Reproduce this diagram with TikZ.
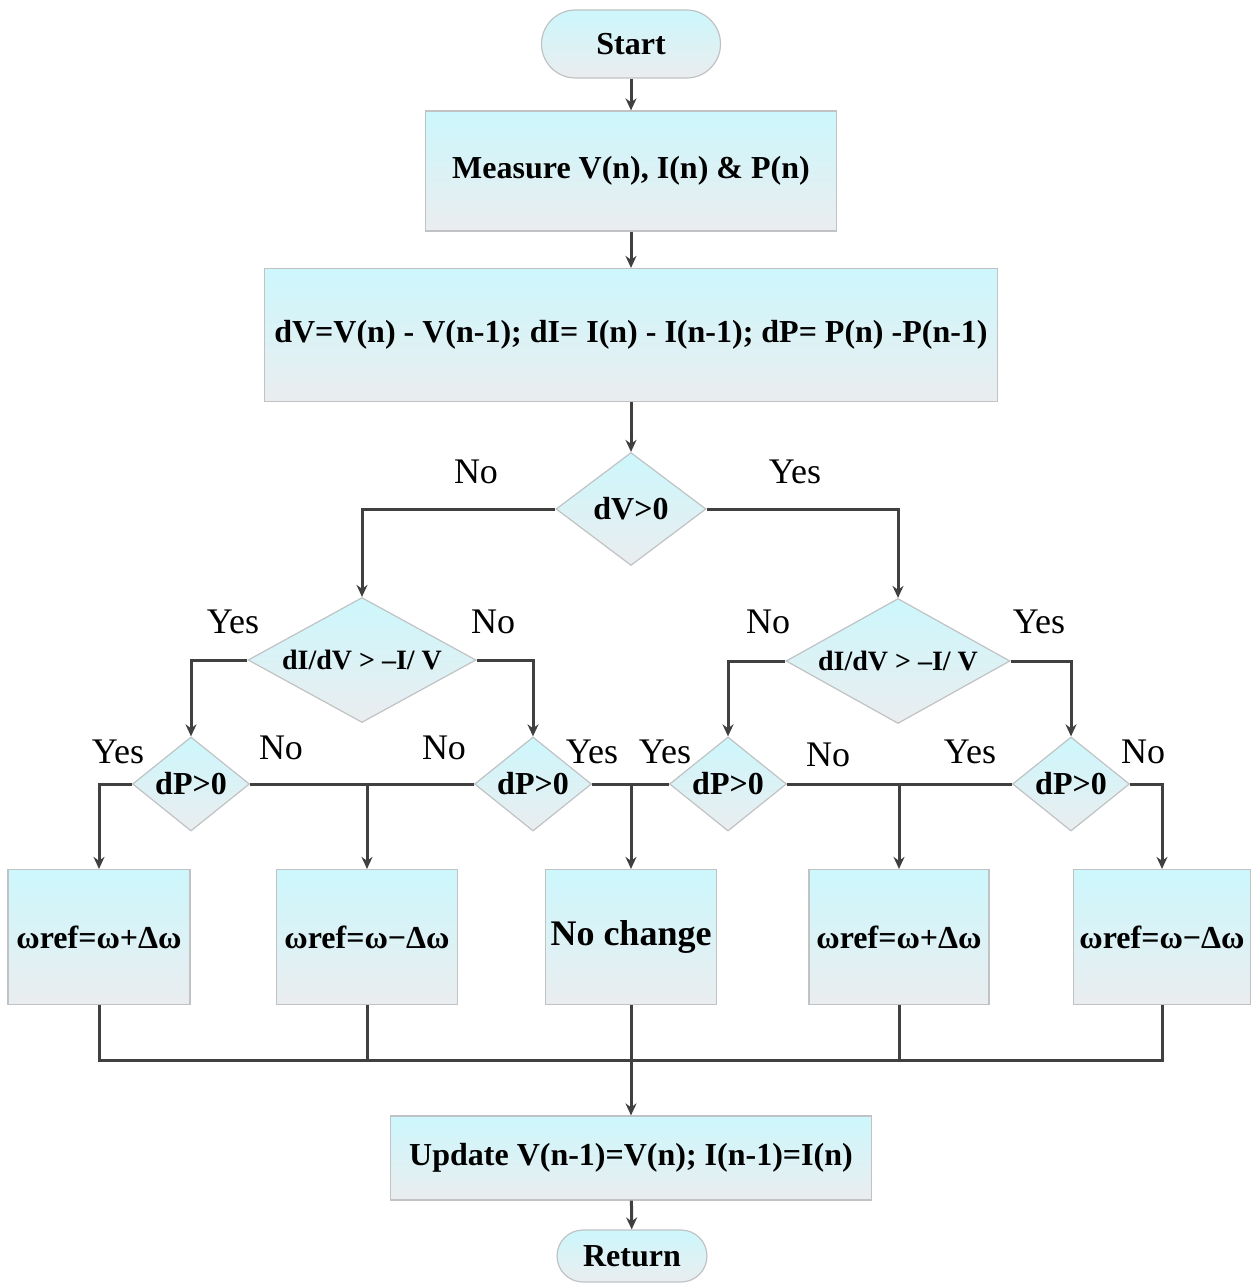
\documentclass[tikz,border=0pt]{standalone}
\usepackage{fontspec}
\setmainfont{Liberation Serif}
\usetikzlibrary{shapes.geometric,arrows.meta}

\definecolor{fillTop}{RGB}{204,247,252}
\definecolor{fillBottom}{RGB}{234,237,239}
\definecolor{edgeclr}{RGB}{192,194,196}
\definecolor{wireclr}{RGB}{64,64,64}

\tikzstyle{box} = [rectangle, text centered, draw=edgeclr, line width=0.6pt, top color=fillTop, bottom color=fillBottom, inner sep=1pt, font=\fontsize{16}{18}\selectfont\bfseries]
\tikzstyle{terminal} = [box]
\tikzstyle{decision} = [diamond, draw=edgeclr, line width=0.6pt, top color=fillTop, bottom color=fillBottom, inner sep=0pt, font=\fontsize{16}{18}\selectfont\bfseries]
\tikzstyle{answer} = [inner sep=0pt, font=\fontsize{18}{20}\selectfont]
\tikzstyle{arrow} = [line width=1.5pt, draw=wireclr, -{Stealth[length=6pt,width=5.5pt]}]
\tikzstyle{link} = [line width=1.5pt, draw=wireclr]

\begin{document}
\begin{tikzpicture}[x=0.5pt,y=-0.5pt]
  \useasboundingbox (0,0) rectangle (1252,1284);

  \node (Start) [terminal, minimum width=89.5pt, minimum height=34pt, rounded corners=17pt] at (631,44) {Start};
  \node (Measure) [box, minimum width=205.5pt, minimum height=60pt] at (631,171) {Measure V(n), I(n) \& P(n)};
  \node (Differences) [box, minimum width=366.5pt, minimum height=66.5pt] at (631,335) {dV=V(n) - V(n-1); dI= I(n) - I(n-1); dP= P(n) -P(n-1)};
  \node (dV test) [decision, minimum width=75pt, minimum height=56.5pt] at (631,509) {dV>0};

  \node (Left slope) [decision, aspect=1.8, minimum width=114pt, minimum height=62.5pt, font=\fontsize{14}{16}\selectfont\bfseries] at (362,660) {dI/dV > –I/ V};
  \node (Right slope) [decision, aspect=1.8, minimum width=112pt, minimum height=62.5pt, font=\fontsize{14}{16}\selectfont\bfseries] at (898,661) {dI/dV > –I/ V};

  \node (dP test 1) [decision, minimum width=58.5pt, minimum height=46.5pt] at (191,784) {dP>0};
  \node (dP test 2) [decision, minimum width=58.5pt, minimum height=46.5pt] at (533,784) {dP>0};
  \node (dP test 3) [decision, minimum width=58.5pt, minimum height=46.5pt] at (728,784) {dP>0};
  \node (dP test 4) [decision, minimum width=58.5pt, minimum height=46.5pt] at (1071,784) {dP>0};

  \node (Increase 1) [box, minimum width=91pt, minimum height=67.5pt] at (99,937) {ωref=ω+Δω};
  \node (Decrease 1) [box, minimum width=90.5pt, minimum height=67.5pt] at (367,937) {ωref=ω−Δω};
  \node (No change) [box, minimum width=85.5pt, minimum height=67.5pt, font=\fontsize{18}{20}\selectfont\bfseries] at (631,937) {No change};
  \node (Increase 2) [box, minimum width=90pt, minimum height=67.5pt] at (899,937) {ωref=ω+Δω};
  \node (Decrease 2) [box, minimum width=88.5pt, minimum height=67.5pt] at (1162,937) {ωref=ω−Δω};

  \node (Update) [box, minimum width=240.5pt, minimum height=42pt] at (631,1158) {Update V(n-1)=V(n); I(n-1)=I(n)};
  \node (Return) [terminal, minimum width=75pt, minimum height=26pt, rounded corners=13pt] at (632,1256) {Return};

  \node (No dV) [answer] at (476,472) {No};
  \node (Yes dV) [answer] at (795,472) {Yes};
  \node (Yes left) [answer] at (233,622) {Yes};
  \node (No left) [answer] at (493,622) {No};
  \node (No right) [answer] at (768,622) {No};
  \node (Yes right) [answer] at (1039,622) {Yes};
  \node (Yes dP 1) [answer] at (118,752) {Yes};
  \node (No dP 1) [answer] at (281,748) {No};
  \node (No dP 2) [answer] at (444,748) {No};
  \node (Yes dP 2) [answer] at (592,752) {Yes};
  \node (Yes dP 3) [answer] at (665,752) {Yes};
  \node (No dP 3) [answer] at (828,755) {No};
  \node (Yes dP 4) [answer] at (970,752) {Yes};
  \node (No dP 4) [answer] at (1143,752) {No};

  \coordinate (Join 1) at (Decrease 1.north |- dP test 1.east);
  \coordinate (Join 2) at (No change.north |- dP test 2.east);
  \coordinate (Join 3) at (Increase 2.north |- dP test 3.east);
  \coordinate (Merge) at (631,1060);

  \draw [arrow] (Start) -- (Measure);
  \draw [arrow] (Measure) -- (Differences);
  \draw [arrow] (Differences) -- (dV test);
  \draw [arrow] (dV test.west) -| (Left slope.north);
  \draw [arrow] (dV test.east) -| (Right slope.north);
  \draw [arrow] (Left slope.west) -| (dP test 1.north);
  \draw [arrow] (Left slope.east) -| (dP test 2.north);
  \draw [arrow] (Right slope.west) -| (dP test 3.north);
  \draw [arrow] (Right slope.east) -| (dP test 4.north);

  \draw [arrow] (dP test 1.west) -| (Increase 1.north);
  \draw [link] (dP test 1.east) -- (dP test 2.west);
  \draw [link] (dP test 2.east) -- (dP test 3.west);
  \draw [link] (dP test 3.east) -- (dP test 4.west);
  \draw [arrow] (dP test 4.east) -| (Decrease 2.north);
  \draw [arrow] (Join 1) -- (Decrease 1.north);
  \draw [arrow] (Join 2) -- (No change.north);
  \draw [arrow] (Join 3) -- (Increase 2.north);

  \draw [link] (Increase 1.south) |- (Merge) -| (Decrease 2.south);
  \draw [link] (Decrease 1.south) -- (Decrease 1.south |- Merge);
  \draw [link] (Increase 2.south) -- (Increase 2.south |- Merge);
  \draw [arrow] (No change.south) -- (Update.north);
  \draw [arrow] (Update) -- (Return);
\end{tikzpicture}
\end{document}
